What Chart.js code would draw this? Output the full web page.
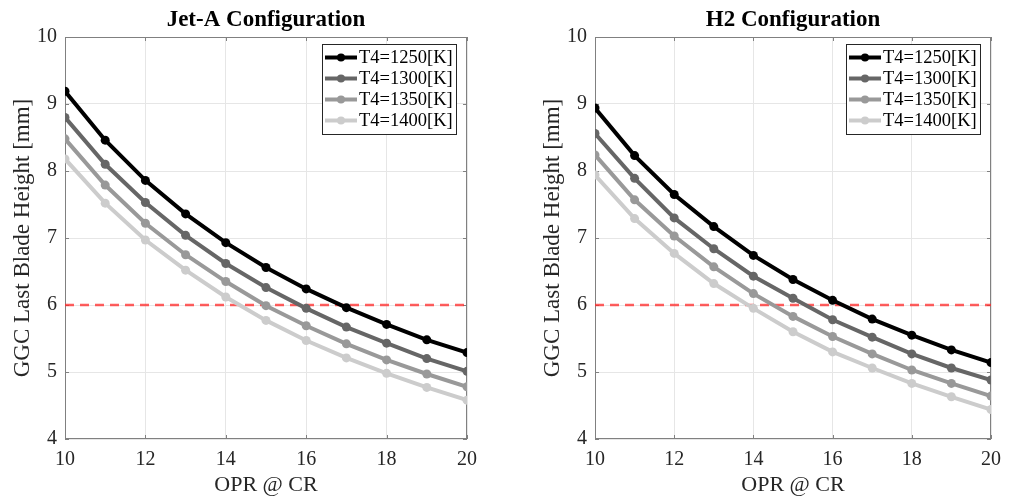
<!DOCTYPE html>
<html>
<head>
<meta charset="utf-8">
<script src="https://cdn.jsdelivr.net/npm/chart.js@4.4.1/dist/chart.umd.min.js"></script>
<style>
  html, body { margin: 0; padding: 0; background: #fff; }
  #wrap { position: relative; width: 1010px; height: 498px; overflow: hidden; }
  #jetCanvas { position: absolute; left: 0; top: 0; }
  #h2Canvas { position: absolute; left: 530px; top: 0; }
</style>
</head>
<body>
<div id="wrap">
  <canvas id="jetCanvas" width="530" height="498"></canvas>
  <canvas id="h2Canvas" width="480" height="498"></canvas>
</div>
<script>
// data
const opr = [10, 11, 12, 13, 14, 15, 16, 17, 18, 19, 20];
const seriesLabels = ["T4=1250[K]", "T4=1300[K]", "T4=1350[K]", "T4=1400[K]"];

const jetA1250 = [9.19, 8.46, 7.86, 7.36, 6.93, 6.56, 6.24, 5.96, 5.71, 5.48, 5.29];
const jetA1300 = [8.80, 8.10, 7.53, 7.04, 6.62, 6.26, 5.95, 5.67, 5.43, 5.20, 5.01];
const jetA1350 = [8.48, 7.79, 7.22, 6.75, 6.35, 5.99, 5.69, 5.42, 5.18, 4.97, 4.78];
const jetA1400 = [8.18, 7.52, 6.97, 6.52, 6.12, 5.77, 5.47, 5.21, 4.98, 4.77, 4.58];

const h21250 = [8.94, 8.23, 7.65, 7.17, 6.74, 6.38, 6.07, 5.79, 5.55, 5.33, 5.14];
const h21300 = [8.56, 7.89, 7.30, 6.84, 6.43, 6.10, 5.78, 5.52, 5.27, 5.06, 4.88];
const h21350 = [8.24, 7.57, 7.03, 6.57, 6.17, 5.83, 5.53, 5.27, 5.03, 4.83, 4.64];
const h21400 = [7.94, 7.29, 6.77, 6.32, 5.95, 5.60, 5.30, 5.06, 4.83, 4.63, 4.44];

const limitHeight = 6;
const xTicks = [10, 12, 14, 16, 18, 20];
const yTicks = [4, 5, 6, 7, 8, 9, 10];

const lineColors = ["#000000", "#666666", "#999999", "#cccccc"];
const serif = "'Liberation Serif', 'Times New Roman', serif";

Chart.defaults.font.family = serif;
Chart.defaults.color = "#262626";

// box around the plot with MATLAB style inward ticks
const framePlugin = {
  id: "frame",
  beforeDatasetsDraw(chart) {
    const { ctx, chartArea: a, scales: { x, y } } = chart;
    ctx.save();
    ctx.strokeStyle = "#808080";
    ctx.lineWidth = 1;
    ctx.strokeRect(a.left + 0.5, a.top + 0.5, a.width - 1, a.height - 1);
    ctx.beginPath();
    x.ticks.forEach(t => {
      const px = Math.round(x.getPixelForValue(t.value)) + 0.5;
      ctx.moveTo(px, a.bottom); ctx.lineTo(px, a.bottom - 4);
      ctx.moveTo(px, a.top); ctx.lineTo(px, a.top + 4);
    });
    y.ticks.forEach(t => {
      const py = Math.round(y.getPixelForValue(t.value)) + 0.5;
      ctx.moveTo(a.left, py); ctx.lineTo(a.left + 4, py);
      ctx.moveTo(a.right, py); ctx.lineTo(a.right - 4, py);
    });
    ctx.stroke();
    ctx.restore();
  }
};

// legend box inside the top right corner
const boxLegend = {
  id: "boxLegend",
  afterDraw(chart) {
    const { ctx, chartArea: a } = chart;
    const items = chart.data.datasets.filter(d => !d.isLimit);
    const w = 134, rowH = 21;
    const h = items.length * rowH + 6;
    const x0 = a.right - 11 - w, y0 = a.top + 7;
    ctx.save();
    ctx.fillStyle = "#fff";
    ctx.fillRect(x0, y0, w, h);
    ctx.strokeStyle = "#262626";
    ctx.lineWidth = 1;
    ctx.strokeRect(x0 + 0.5, y0 + 0.5, w, h);
    ctx.font = "18.5px " + serif;
    ctx.textBaseline = "middle";
    items.forEach((d, i) => {
      const cy = y0 + 3 + rowH * (i + 0.5);
      ctx.strokeStyle = d.borderColor;
      ctx.lineWidth = 4;
      ctx.beginPath();
      ctx.moveTo(x0 + 3, cy);
      ctx.lineTo(x0 + 35, cy);
      ctx.stroke();
      ctx.fillStyle = d.borderColor;
      ctx.beginPath();
      ctx.arc(x0 + 19, cy, 4, 0, Math.PI * 2);
      ctx.fill();
      ctx.fillStyle = "#000";
      ctx.fillText(d.label, x0 + 37, cy + 1);
    });
    ctx.restore();
  }
};

function makeChart(id, title, series, rightPad) {
  const datasets = series.map((vals, i) => ({
    label: seriesLabels[i],
    data: opr.map((x, j) => ({ x: x, y: vals[j] })),
    borderColor: lineColors[i],
    backgroundColor: lineColors[i],
    borderWidth: 4,
    pointRadius: 4.5,
    pointBorderWidth: 0,
    tension: 0
  }));
  datasets.push({
    label: "limit",
    isLimit: true,
    data: [{ x: opr[0], y: limitHeight }, { x: opr[opr.length - 1], y: limitHeight }],
    borderColor: "rgba(255,40,40,0.75)",
    borderWidth: 2.5,
    borderDash: [9, 6],
    pointRadius: 0
  });

  return new Chart(document.getElementById(id), {
    type: "line",
    data: { datasets },
    plugins: [framePlugin, boxLegend],
    options: {
      responsive: false,
      animation: false,
      layout: { padding: { left: 0, right: rightPad, top: 0, bottom: 0 } },
      plugins: {
        legend: { display: false },
        tooltip: { enabled: false },
        title: {
          display: true,
          text: title,
          fullSize: false,
          color: "#000",
          font: { size: 23, weight: "bold" },
          padding: { top: 6.5, bottom: 2.9 }
        }
      },
      scales: {
        x: {
          type: "linear",
          min: 10,
          max: 20,
          afterBuildTicks: s => { s.ticks = xTicks.map(v => ({ value: v })); },
          afterFit: s => { s.height = 59; },
          border: { display: false },
          grid: { color: "#e6e6e6", drawTicks: false },
          ticks: { color: "#262626", font: { size: 20 }, padding: 9 },
          title: { display: true, text: "OPR @ CR", color: "#262626", font: { size: 22 }, padding: { top: 0, bottom: 0 } }
        },
        y: {
          min: 4,
          max: 10,
          afterBuildTicks: s => { s.ticks = yTicks.map(v => ({ value: v })); },
          afterFit: s => { s.width = 65; },
          border: { display: false },
          grid: { color: "#e6e6e6", drawTicks: false },
          ticks: { color: "#262626", font: { size: 20 }, padding: 8 },
          title: { display: true, text: "GGC Last Blade Height [mm]", color: "#262626", font: { size: 23 }, padding: { top: 9, bottom: 0 } }
        }
      }
    }
  });
}

makeChart("jetCanvas", "Jet-A Configuration", [jetA1250, jetA1300, jetA1350, jetA1400], 63);
makeChart("h2Canvas", "H2 Configuration", [h21250, h21300, h21350, h21400], 13);
</script>
</body>
</html>
